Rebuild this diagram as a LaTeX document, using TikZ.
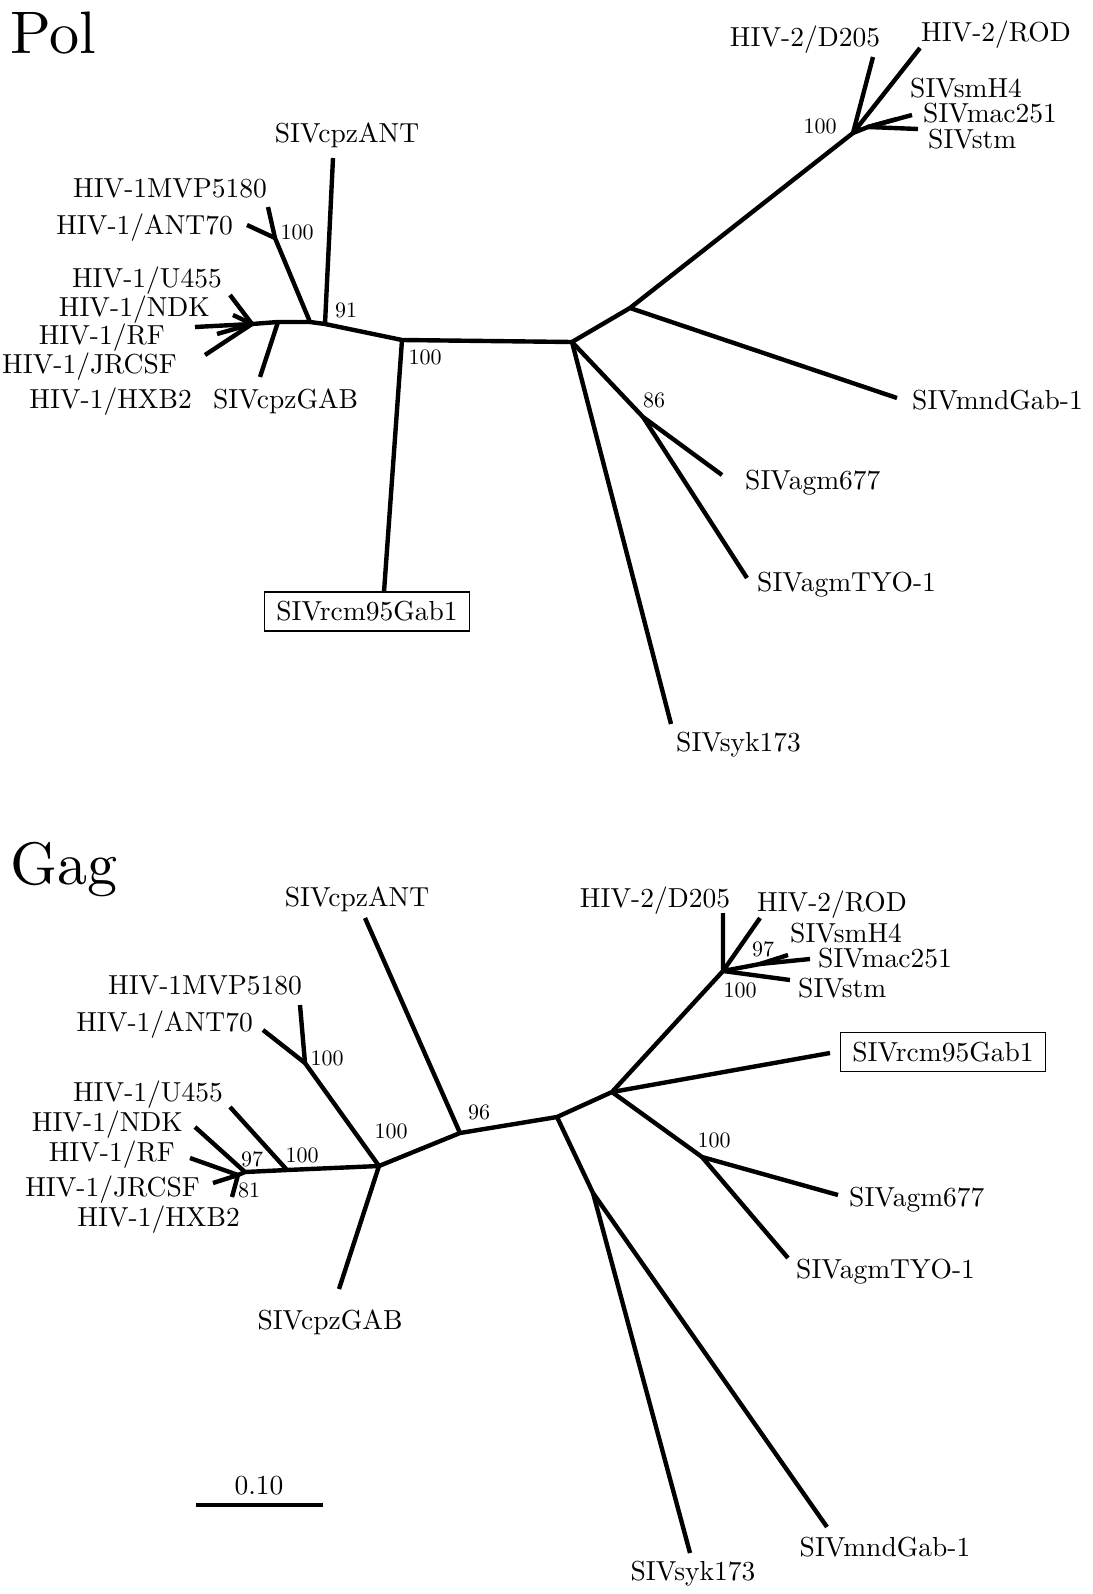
\documentclass[tikz,border=0pt]{standalone}
\usepackage{fontspec}
\setmainfont{lmroman10-regular.otf}
\begin{document}
\begin{tikzpicture}[x=1pt,y=-1pt,
  branch/.style={line width=4.4pt,line join=round},
  taxon/.style={inner sep=0pt,font=\fontsize{27.5}{32}\selectfont},
  boot/.style={inner sep=0pt,font=\fontsize{22}{26}\selectfont},
  panel/.style={inner sep=0pt,anchor=base west,font=\fontsize{60}{70}\selectfont},
  framed/.style={taxon,draw,line width=1.6pt,minimum width=205pt,minimum height=39pt}]
\useasboundingbox (0,0) rectangle (1092,1594);
% Pol
\node[panel] (polttl) at (10,54) {Pol};
\coordinate (pMVP) at (268,207); \coordinate (pANT) at (247,225); \coordinate (pMA) at (275,238);
\coordinate (pHa) at (310,322); \coordinate (p91) at (325,324); \coordinate (pcpzANT) at (333,158);
\coordinate (pGb) at (278,322); \coordinate (pcpzGAB) at (260,377); \coordinate (pM) at (252,324);
\coordinate (pU455) at (230,295); \coordinate (pNDK) at (233,315); \coordinate (pRF) at (195,327);
\coordinate (pJRCSF) at (217,334); \coordinate (pHXB2) at (205,355);
\coordinate (p100r) at (402,340); \coordinate (prcmtip) at (384,592);
\coordinate (pC) at (572,342); \coordinate (pD) at (630,308);
\coordinate (pH2) at (853,133); \coordinate (pD205) at (873,57); \coordinate (pROD) at (920,48);
\coordinate (pSM) at (868,127); \coordinate (psmH4) at (897,119); \coordinate (pmac) at (912,115); \coordinate (pstm) at (918,129);
\coordinate (pmnd) at (897,398); \coordinate (p86) at (643,417); \coordinate (pagm) at (722,475);
\coordinate (ptyo) at (747,578); \coordinate (psyk) at (671,724);
\draw[branch] (pMVP) -- (pMA) -- (pHa) -- (p91) -- (p100r) -- (pC) -- (pD) -- (pH2) -- (pD205);
\draw[branch] (pANT) -- (pMA);
\draw[branch] (pcpzANT) -- (p91);
\draw[branch] (pHa) -- (pGb) -- (pM) -- (pRF);
\draw[branch] (pGb) -- (pcpzGAB);
\draw[branch] (pU455) -- (pM) -- (pHXB2); \draw[branch] (pNDK) -- (pM) -- (pJRCSF);
\draw[branch] (p100r) -- (prcmtip);
\draw[branch] (pD) -- (pmnd);
\draw[branch] (pC) -- (psyk); \draw[branch] (pC) -- (p86) -- (pagm); \draw[branch] (p86) -- (ptyo);
\draw[branch] (pROD) -- (pH2) -- (pSM) -- (pmac); \draw[branch] (pSM) -- (psmH4); \draw[branch] (pSM) -- (pstm);
\node[taxon,anchor=mid east] (lpMVP) at (267,195) {HIV-1MVP5180};
\node[taxon,anchor=mid east] (lpANT) at (233,232) {HIV-1/ANT70};
\node[taxon,anchor=mid east] (lpU455) at (222,285) {HIV-1/U455};
\node[taxon,anchor=mid east] (lpNDK) at (210,314) {HIV-1/NDK};
\node[taxon,anchor=mid east] (lpRF) at (165,342) {HIV-1/RF};
\node[taxon,anchor=mid west] (lpJRCSF) at (2,371) {HIV-1/JRCSF};
\node[taxon,anchor=mid east] (lpHXB2) at (192,406) {HIV-1/HXB2};
\node[taxon,anchor=mid west] (lpcpzGAB) at (213,406) {SIVcpzGAB};
\node[taxon,anchor=mid] (lpcpzANT) at (347,140) {SIVcpzANT};
\node[taxon,anchor=mid] (lpD205) at (805,44) {HIV-2/D205};
\node[taxon,anchor=mid] (lpROD) at (996,39) {HIV-2/ROD};
\node[taxon,anchor=mid west] (lpsmH4) at (910,95) {SIVsmH4};
\node[taxon,anchor=mid west] (lpmac) at (923,120) {SIVmac251};
\node[taxon,anchor=mid west] (lpstm) at (928,146) {SIVstm};
\node[taxon,anchor=mid west] (lpmnd) at (912,407) {SIVmndGab-1};
\node[taxon,anchor=mid west] (lpagm) at (745,487) {SIVagm677};
\node[taxon,anchor=mid west] (lptyo) at (757,589) {SIVagmTYO-1};
\node[taxon,anchor=mid west] (lpsyk) at (676,749) {SIVsyk173};
\node[framed] (prcm) at (367,611.5) {SIVrcm95Gab1};
\node[boot,anchor=mid] (bpMA) at (297,237) {100};
\node[boot,anchor=mid] (bp91) at (346,315) {91};
\node[boot,anchor=mid] (bp100r) at (425,362) {100};
\node[boot,anchor=mid] (bp86) at (654,405) {86};
\node[boot,anchor=mid] (bpH2) at (820,131) {100};
% Gag
\node[panel] (gagttl) at (10,884) {Gag};
\coordinate (gMVP) at (300,1005); \coordinate (gANT) at (263,1030); \coordinate (gMA) at (305,1063);
\coordinate (gB) at (379,1166); \coordinate (gGAB) at (339,1289); \coordinate (g100c) at (287,1170);
\coordinate (gU455) at (230,1107); \coordinate (g97) at (245,1172); \coordinate (gNDK) at (195,1127);
\coordinate (g81) at (238,1175); \coordinate (gRF) at (190,1158); \coordinate (gJRCSF) at (213,1183); \coordinate (gHXB2) at (232,1197);
\coordinate (g96) at (460,1133); \coordinate (gcpzANT) at (365,918);
\coordinate (gE) at (557,1117); \coordinate (gF) at (612,1092); \coordinate (gG) at (593,1193);
\coordinate (gsyk) at (690,1553); \coordinate (gmnd) at (827,1527);
\coordinate (g100d) at (702,1157); \coordinate (gagm) at (838,1195); \coordinate (gtyo) at (788,1258);
\coordinate (gH2) at (723,971); \coordinate (gD205) at (723,913); \coordinate (gROD) at (760,918);
\coordinate (gS97) at (760,964); \coordinate (gsmH4) at (788,955); \coordinate (gmac) at (810,959); \coordinate (gstm) at (790,980);
\coordinate (grcmtip) at (830,1053);
\draw[branch] (gMVP) -- (gMA) -- (gB) -- (g96) -- (gE) -- (gF) -- (gH2) -- (gD205);
\draw[branch] (gANT) -- (gMA);
\draw[branch] (gHXB2) -- (g81) -- (g97) -- (g100c) -- (gB) -- (gGAB);
\draw[branch] (gRF) -- (g81) -- (gJRCSF);
\draw[branch] (gNDK) -- (g97); \draw[branch] (gU455) -- (g100c);
\draw[branch] (gcpzANT) -- (g96);
\draw[branch] (gE) -- (gG) -- (gsyk); \draw[branch] (gG) -- (gmnd);
\draw[branch] (gF) -- (g100d) -- (gagm); \draw[branch] (g100d) -- (gtyo);
\draw[branch] (gF) -- (grcmtip);
\draw[branch] (gROD) -- (gH2) -- (gS97) -- (gmac); \draw[branch] (gS97) -- (gsmH4); \draw[branch] (gH2) -- (gstm);
\node[taxon,anchor=mid east] (lgMVP) at (302,992) {HIV-1MVP5180};
\node[taxon,anchor=mid east] (lgANT) at (253,1029) {HIV-1/ANT70};
\node[taxon,anchor=mid east] (lgU455) at (223,1099) {HIV-1/U455};
\node[taxon,anchor=mid east] (lgNDK) at (183,1129) {HIV-1/NDK};
\node[taxon,anchor=mid east] (lgRF) at (175,1159) {HIV-1/RF};
\node[taxon,anchor=mid east] (lgJRCSF) at (200,1194) {HIV-1/JRCSF};
\node[taxon,anchor=mid east] (lgHXB2) at (240,1224) {HIV-1/HXB2};
\node[taxon,anchor=mid] (lgcpzGAB) at (330,1327) {SIVcpzGAB};
\node[taxon,anchor=mid] (lgcpzANT) at (357,904) {SIVcpzANT};
\node[taxon,anchor=mid] (lgD205) at (655,905) {HIV-2/D205};
\node[taxon,anchor=mid] (lgROD) at (832,909) {HIV-2/ROD};
\node[taxon,anchor=mid west] (lgsmH4) at (790,940) {SIVsmH4};
\node[taxon,anchor=mid west] (lgmac) at (818,965) {SIVmac251};
\node[taxon,anchor=mid west] (lgstm) at (798,995) {SIVstm};
\node[taxon,anchor=mid west] (lgagm) at (849,1204) {SIVagm677};
\node[taxon,anchor=mid west] (lgtyo) at (796,1276) {SIVagmTYO-1};
\node[taxon,anchor=mid] (lgsyk) at (693,1578) {SIVsyk173};
\node[taxon,anchor=mid] (lgmnd) at (885,1554) {SIVmndGab-1};
\node[framed] (grcm) at (943,1052) {SIVrcm95Gab1};
\node[boot,anchor=mid] (bgMA) at (327,1063) {100};
\node[boot,anchor=mid] (bgB) at (391,1136) {100};
\node[boot,anchor=mid] (bg100c) at (302,1160) {100};
\node[boot,anchor=mid] (bg97) at (252,1164) {97};
\node[boot,anchor=mid] (bg81) at (249,1195) {81};
\node[boot,anchor=mid] (bg96) at (479,1117) {96};
\node[boot,anchor=mid] (bgS97) at (763,954) {97};
\node[boot,anchor=mid] (bgH2) at (740,995) {100};
\node[boot,anchor=mid] (bg100d) at (714,1145) {100};
% scale
\coordinate (sbl) at (196,1505); \coordinate (sbr) at (323,1505);
\draw[line width=3.4pt] (sbl) -- (sbr);
\node[taxon,anchor=mid] (sblab) at (259,1492) {0.10};
\end{tikzpicture}
\end{document}
